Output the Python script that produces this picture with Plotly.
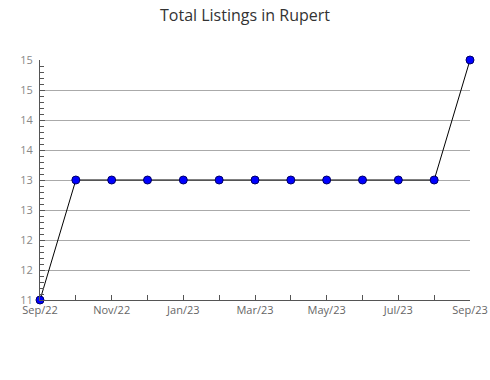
import plotly.graph_objects as go

months = ["Sep/22", "Oct/22", "Nov/22", "Dec/22", "Jan/23", "Feb/23", "Mar/23",
          "Apr/23", "May/23", "Jun/23", "Jul/23", "Aug/23", "Sep/23"]
listings = [11, 13, 13, 13, 13, 13, 13, 13, 13, 13, 13, 13, 15]
y_tickvals = [11, 11.5, 12, 12.5, 13, 13.5, 14, 14.5, 15]
y_ticktext = ["11", "12", "12", "13", "13", "14", "14", "15", "15"]

x = list(range(len(months)))

fig = go.Figure()
fig.add_trace(go.Scatter(
    x=x, y=listings, mode="lines+markers",
    line=dict(color="black", width=1),
    marker=dict(symbol="circle", size=8, color="#0000ff",
                line=dict(color="#000066", width=1)),
    cliponaxis=False,
))

fig.update_layout(
    width=490, height=380,
    margin=dict(l=40, r=20, t=60, b=80),
    paper_bgcolor="white", plot_bgcolor="white",
    showlegend=False,
    title=dict(text="Total Listings in Rupert", x=0.5, xanchor="center",
               y=0.96, yanchor="middle",
               font=dict(family="Open Sans", size=16, color="#333333")),
    font=dict(family="Open Sans", size=11, color="#666666"),
)
fig.update_xaxes(
    range=[0, 12], tickvals=x[::2], ticktext=months[::2],
    automargin=False,
    showgrid=False, zeroline=False,
    showline=True, linecolor="#555555", linewidth=1,
    ticks="inside", ticklen=5, tickcolor="#555555",
    minor=dict(tickvals=x, ticks="inside", ticklen=5, tickcolor="#555555", showgrid=False),
    tickfont=dict(size=11, color="#666666"),
)
fig.update_yaxes(
    range=[11, 15], tickvals=y_tickvals, ticktext=y_ticktext,
    automargin=False,
    showgrid=True, gridcolor="#aaaaaa", gridwidth=1, zeroline=False,
    showline=True, linecolor="#555555", linewidth=1,
    ticks="inside", ticklen=5, tickcolor="#555555",
    minor=dict(dtick=0.1, ticks="inside", ticklen=4, tickcolor="#555555", showgrid=False),
    tickfont=dict(size=11, color="#888888"),
    ticklabelstandoff=4,
)

fig.write_html("out.html")
